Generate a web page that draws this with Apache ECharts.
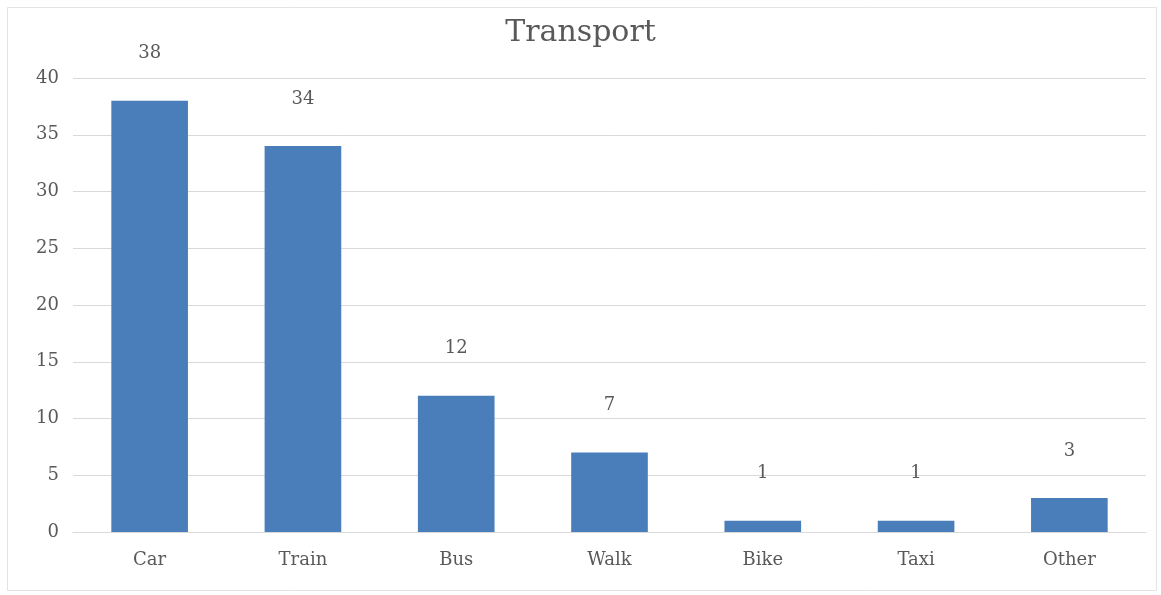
<!DOCTYPE html>
<html>
<head>
<meta charset="utf-8">
<script src="https://cdn.jsdelivr.net/npm/echarts@6/dist/echarts.min.js"></script>
<style>
	html, body { margin: 0; padding: 0; background: #fff; }
	#main { width: 1161px; height: 595px; }
</style>
</head>
<body>
<div id="main"></div>
<script>
'use strict';

var categories = ['Car', 'Train', 'Bus', 'Walk', 'Bike', 'Taxi', 'Other'];
var values = [38, 34, 12, 7, 1, 1, 3];
var yTicks = [0, 5, 10, 15, 20, 25, 30, 35, 40];

var font = '"DejaVu Serif", "Liberation Serif", serif';
var textColor = '#595959';

var myChart = echarts.init(document.getElementById('main'));

var option = {
	backgroundColor: '#fff',
	animation: false,
	title: {
		text: 'Transport',
		left: 'center',
		top: 13,
		textStyle: {
			fontFamily: font,
			fontSize: 30,
			fontWeight: 'normal',
			color: textColor
		}
	},
	graphic: [{
		type: 'rect',
		shape: { x: 7.5, y: 7.5, width: 1149, height: 583 },
		style: { fill: 'none', stroke: '#e3e3e3', lineWidth: 1 },
		silent: true
	}],
	grid: {
		left: 73,
		right: 15,
		top: 78,
		bottom: 63,
		containLabel: false
	},
	xAxis: {
		type: 'category',
		data: categories,
		axisLine: { show: true, lineStyle: { color: '#d9d9d9' } },
		axisTick: { show: false },
		axisLabel: {
			fontFamily: font,
			fontSize: 18,
			color: textColor,
			margin: 19
		}
	},
	yAxis: {
		type: 'value',
		min: yTicks[0],
		max: yTicks[yTicks.length - 1],
		interval: 5,
		axisLine: { show: false },
		axisTick: { show: false },
		splitLine: { lineStyle: { color: '#d9d9d9' } },
		axisLabel: {
			fontFamily: font,
			fontSize: 18,
			color: textColor,
			margin: 14
		}
	},
	series: [{
		type: 'bar',
		data: values,
		barWidth: '50%',
		itemStyle: { color: '#4a7ebb' },
		label: {
			show: true,
			position: 'top',
			distance: 38,
			fontFamily: font,
			fontSize: 18,
			color: textColor
		}
	}]
};

myChart.setOption(option);
</script>
</body>
</html>
